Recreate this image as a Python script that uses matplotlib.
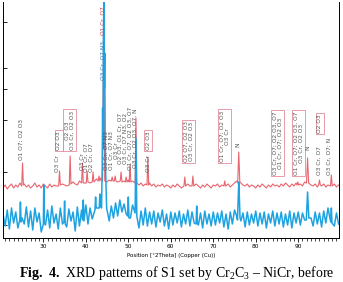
import numpy as np
import matplotlib
matplotlib.use("Agg")
import matplotlib.pyplot as plt
from matplotlib.ticker import MultipleLocator

# scan positions of the background samples (0.5 deg step)
scan_2theta = np.arange(20.5, 99.75, 0.5)

# background intensity of the coated sample (red, upper trace)
red_background = [
    50, 53, 49, 52, 54, 50, 53, 51, 55, 52,
    54, 51, 53, 50, 52, 55, 51, 53, 50, 54,
    52, 50, 54, 51, 53, 52, 55, 51, 54, 53,
    52, 55, 53, 56, 54, 53, 57, 54, 56, 55,
    57, 55, 58, 56, 59, 57, 60, 58, 57, 56,
    58, 56, 59, 57, 56, 58, 55, 57, 56, 58,
    55, 57, 54, 56, 53, 55, 52, 54, 53, 55,
    52, 54, 51, 53, 52, 54, 51, 53, 52, 50,
    53, 51, 54, 52, 50, 53, 51, 54, 52, 53,
    51, 54, 52, 50, 53, 51, 54, 52, 50, 53,
    52, 54, 51, 53, 50, 52, 54, 51, 53, 55,
    57, 58, 55, 53, 52, 54, 51, 53, 52, 50,
    53, 51, 54, 52, 50, 53, 51, 54, 52, 53,
    51, 54, 52, 55, 53, 51, 54, 52, 55, 53,
    54, 52, 56, 58, 55, 53, 52, 54, 51, 53,
    52, 54, 51, 53, 55, 52, 54, 51, 53,
]

# background intensity of the powder (blue, noisy lower trace)
blue_background = [
    24, 12, 28, 9, 30, 15, 26, 10, 29, 20,
    14, 31, 11, 27, 8, 30, 16, 25, 6, 29,
    13, 28, 10, 32, 15, 24, 9, 30, 14, 27,
    11, 29, 17, 26, 7, 31, 12, 28, 16, 33,
    14, 30, 19, 36, 24, 38, 30, 40, 33, 28,
    17, 32, 20, 35, 22, 38, 26, 34, 24, 37,
    20, 33, 15, 28, 10, 27, 13, 30, 12, 26,
    14, 27, 11, 25, 16, 28, 12, 24, 9, 26,
    13, 25, 15, 27, 11, 24, 14, 28, 12, 26,
    15, 30, 13, 25, 10, 27, 14, 24, 12, 26,
    13, 25, 15, 27, 11, 24, 9, 26, 14, 28,
    22, 30, 17, 25, 11, 26, 13, 24, 15, 27,
    12, 25, 14, 26, 10, 24, 15, 27, 12, 25,
    14, 26, 11, 24, 13, 27, 10, 25, 15, 26,
    13, 25, 18, 30, 24, 20, 12, 26, 14, 25,
    11, 27, 15, 30, 22, 26, 12, 25, 14,
]

# peak profiles (2theta, intensity)
red_peak_x = [
    24.9, 25.1, 25.3, 33.6, 33.8, 34.0, 36.1, 36.3, 36.5,
    39.0, 39.2, 39.4, 40.1, 40.3, 40.5, 41.5, 41.7, 41.9,
    42.9, 43.1, 43.3, 43.95, 44.2, 44.45, 46.0, 46.2, 46.4,
    46.7, 46.9, 47.1, 48.1, 48.3, 48.5, 49.3, 49.5, 49.7,
    50.2, 50.4, 50.6, 51.6, 51.8, 52.0, 54.4, 54.6, 54.8,
    63.1, 63.3, 63.5, 65.0, 65.2, 65.4, 72.5, 72.7, 72.9,
    75.75, 76.0, 76.25, 89.7, 89.9, 90.1, 91.95, 92.2, 92.45,
    94.8, 95.0, 95.2, 97.6, 97.8, 98.0,
]
red_peak_y = [
    52, 75, 53, 52, 67, 53, 53, 82, 54,
    55, 75, 55, 55, 67, 56, 56, 66, 56,
    57, 62, 57, 57, 240, 57, 57, 61, 57,
    57, 62, 57, 57, 66, 56, 56, 61, 56,
    56, 73, 56, 55, 120, 55, 53, 81, 53,
    52, 61, 52, 52, 62, 52, 52, 57, 52,
    55, 86, 56, 53, 56, 53, 55, 80, 55,
    53, 58, 53, 52, 63, 52,
]
blue_peak_x = [
    24.45, 24.6, 24.75, 30.0, 30.1, 30.2, 34.85, 35.0, 35.15,
    39.25, 39.4, 39.55, 42.15, 42.3, 42.45, 43.15, 43.3, 43.45,
    43.7, 43.85, 43.95, 44.05, 44.15, 44.25, 44.35, 44.45, 44.55, 44.7, 44.9,
    49.85, 50.0, 50.15, 51.6, 51.8, 52.0, 65.95, 66.1, 66.25,
    75.7, 75.85, 76.0, 76.15, 76.3, 91.9, 92.05, 92.2, 92.35, 92.5,
    97.65, 97.8, 97.95,
]
blue_peak_y = [
    18, 36, 16, 14, 53, 15, 16, 37, 14,
    18, 38, 17, 28, 41, 30, 30, 44, 32,
    30, 70, 130, 90, 200, 240, 150, 185, 100, 60, 30,
    22, 41, 20, 25, 100, 22, 14, 32, 15,
    18, 38, 56, 40, 20, 18, 32, 46, 34, 20,
    16, 30, 15,
]

# phase annotations: (2theta, intensity at label foot, text, boxed)
labels = [
    (24.84, 78, "O1 O7; O2 O3", False),
    (33.29, 66, "O3 Cr", False),
    (33.64, 88, "O2 O3", True),
    (36.22, 88, "O2 O3\nO3 Cr, O2 O3", True),
    (39.15, 68, "O3 Cr", False),
    (40.6, 66, "O1 Cr, O7\nO2 Cr, O7", False),
    (45.96, 68, "O3 Cr, O7 N3\nO1 Cr, O7 N3\nO3 Cr", False),
    (49.9, 68, "O2 O3, O1 Cr, O7\nO3 Cr, O7 N3, O2\nO1 Cr, O7, O2 O3, O7\nO3 Cr, O2 O3, O7, N", False),
    (54.65, 88, "O2 O3", True),
    (54.65, 66, "O3 Cr", False),
    (64.27, 76, "O2 O7, O2 O3\nO3 Cr, O2 O3", True),
    (72.72, 76, "O1 Cr, O7; O2 O3\nO3 Cr", True),
    (75.77, 91, "N", False),
    (85.16, 63, "O3 Cr, O7; O2 O3, O7\nO1 Cr, O7; O2 O3", True),
    (90.09, 63, "O1 Cr, O7; O2 O3, O7\nO3 Cr, O2 O3", True),
    (92.2, 88, "N", False),
    (95.02, 105, "O2 O3", True),
    (95.02, 63, "O3 Cr, O7", False),
    (97.37, 63, "O3 Cr, O7; N", False),
]


def build_trace(bg_x, bg_y, pk_x, pk_y):
    # drop background samples that fall inside a peak profile
    bg_x = np.asarray(bg_x, dtype=float)
    bg_y = np.asarray(bg_y, dtype=float)
    pk_x = np.asarray(pk_x, dtype=float)
    keep = np.min(np.abs(bg_x[:, None] - pk_x[None, :]), axis=1) > 0.16
    x = np.concatenate([bg_x[keep], pk_x])
    y = np.concatenate([bg_y[keep], np.asarray(pk_y, dtype=float)])
    order = np.argsort(x)
    return x[order], y[order]


plt.rcParams["font.family"] = ["DejaVu Sans"]
plt.rcParams["mathtext.fontset"] = "custom"
plt.rcParams["mathtext.rm"] = "Liberation Serif"
plt.rcParams["mathtext.bf"] = "Liberation Serif:bold"

red_color = "#e8646e"
blue_color = "#1ea3e2"
box_color = "#e58a9a"
text_color = "#555555"

fig = plt.figure(figsize=(3.43, 2.82), dpi=100)
ax = fig.add_axes([3 / 343, 1 - 238 / 282, 336 / 343, 236 / 282])

rx, ry = build_trace(scan_2theta, red_background, red_peak_x, red_peak_y)
bx, by = build_trace(scan_2theta, blue_background, blue_peak_x, blue_peak_y)
ax.plot(rx, ry, color=red_color, lw=0.8)
ax.plot(bx, by, color=blue_color, lw=1.1)

for pos, foot, txt, boxed in labels:
    kw = {}
    if boxed:
        kw["bbox"] = dict(boxstyle="square,pad=0.25", fc="none", ec=box_color, lw=0.6)
    ax.text(pos, foot, txt, rotation=90, ha="center", va="bottom",
            fontsize=4.2, color=text_color, linespacing=1.0, **kw)

# labels written along the main peak
ax.text(44.15, 158, "O3 Cr, O7 N3", rotation=90, ha="center", va="bottom",
        fontsize=4.2, color="#2a7fc0")
ax.text(44.15, 203, "O1 Cr, O7", rotation=90, ha="center", va="bottom",
        fontsize=4.2, color="#d23c4a")

ax.set_xlim(20.5, 99.6)
ax.set_ylim(0, 236)
ax.xaxis.set_major_locator(MultipleLocator(10))
ax.xaxis.set_minor_locator(MultipleLocator(1))
ax.set_yticks([13, 66, 118, 149, 170, 216])
ax.set_yticklabels([])
ax.tick_params(axis="x", which="major", length=3, width=0.6, labelsize=4.2, pad=1.5)
ax.tick_params(axis="x", which="minor", length=1.8, width=0.5)
ax.tick_params(axis="y", direction="in", length=3, width=0.6)
ax.spines["top"].set_visible(False)
for s in ("left", "right", "bottom"):
    ax.spines[s].set_linewidth(0.7)
ax.set_xlabel("Position [°2Theta] (Copper (Cu))", fontsize=4, labelpad=3)

fig.text(177 / 343, 1 - 273 / 282,
         r"$\mathbf{Fig.\ 4.}$ XRD patterns of S1 set by Cr$_2$C$_3$ – NiCr, before",
         ha="center", va="center", fontsize=10, family="Liberation Serif")

fig.savefig("out.png", dpi=100)
